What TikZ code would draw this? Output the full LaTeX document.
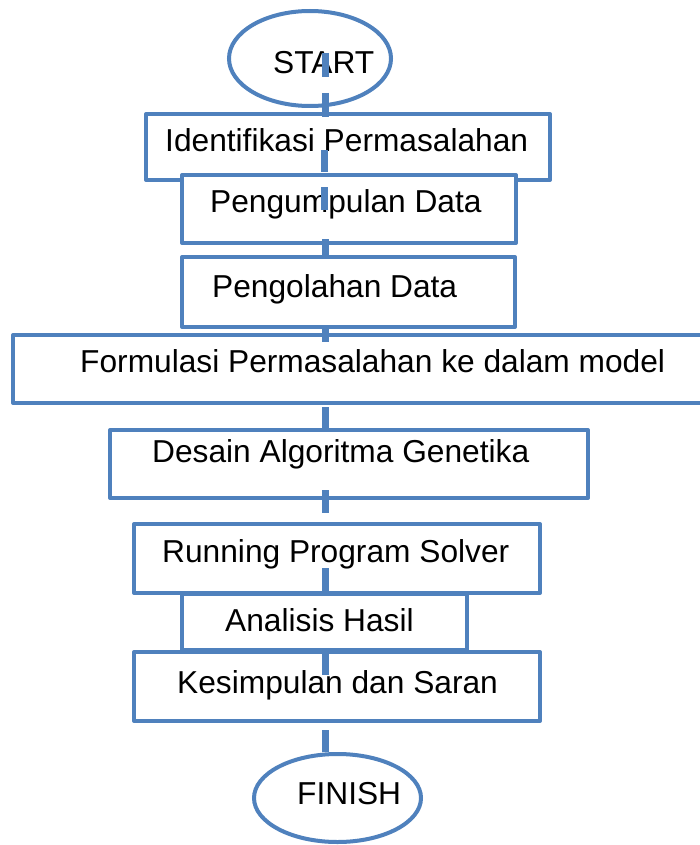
\documentclass[tikz,border=0pt]{standalone}
\usepackage{fontspec}
\setmainfont{Liberation Sans}
\usetikzlibrary{shapes.geometric}
\definecolor{bluestroke}{HTML}{4F81BD}
\tikzset{
  box/.style={draw=bluestroke, line width=4pt, fill=white, rectangle, inner sep=0pt, line join=round},
  oval/.style={draw=bluestroke, line width=4pt, fill=white, ellipse, inner sep=0pt},
  txt/.style={inner sep=0pt, anchor=base west, font=\fontsize{31.7}{38}\selectfont},
  stub/.style={draw=bluestroke, line width=7pt}
}
\begin{document}
\begin{tikzpicture}[x=1pt,y=-1pt]
\useasboundingbox (0,0) rectangle (699,845);
% shapes
\node[oval, minimum width=162pt, minimum height=95pt] (start) at (310,58.5) {};
\node[box, minimum width=404pt, minimum height=66pt] (b1) at (348,147) {};
\node[box, minimum width=334pt, minimum height=68pt] (b2) at (349,209) {};
\node[box, minimum width=333pt, minimum height=70pt] (b3) at (348.5,292) {};
\node[box, minimum width=697pt, minimum height=68pt] (b4) at (361.5,369) {};
\node[box, minimum width=478pt, minimum height=68pt] (b5) at (349,464) {};
\node[box, minimum width=406pt, minimum height=69pt] (b6) at (337,558.5) {};
\node[box, minimum width=285pt, minimum height=56pt] (b7) at (324.5,622) {};
\node[box, minimum width=406pt, minimum height=69pt] (b8) at (337,686.5) {};
\node[oval, minimum width=167pt, minimum height=88pt] (finish) at (337.5,798) {};
% texts
\node[txt] (tstart) at (273,74) {START};
\node[txt] (t1) at (165,152) {Identifikasi Permasalahan};
\node[txt] (t2) at (210,212) {Pengumpulan Data};
\node[txt] (t3) at (212,297) {Pengolahan Data};
\node[txt] (t4) at (80,372) {Formulasi Permasalahan ke dalam model};
\node[txt] (t5) at (152,462) {Desain Algoritma Genetika};
\node[txt] (t6) at (162,562) {Running Program Solver};
\node[txt] (t7) at (225,631) {Analisis Hasil};
\node[txt] (t8) at (177,693) {Kesimpulan dan Saran};
\node[txt] (tfinish) at (297,804) {FINISH};
% connector stubs
\coordinate (s1a) at (325,53);  \coordinate (s1b) at (325,77);
\coordinate (s2a) at (325,93);  \coordinate (s2b) at (325,117);
\coordinate (s3a) at (324,150); \coordinate (s3b) at (324,172);
\coordinate (s4a) at (324,187); \coordinate (s4b) at (324,210);
\coordinate (s5a) at (325,239); \coordinate (s5b) at (325,257);
\coordinate (s6a) at (325,328); \coordinate (s6b) at (325,342);
\coordinate (s7a) at (325,407); \coordinate (s7b) at (325,428);
\coordinate (s8a) at (325,490); \coordinate (s8b) at (325,513);
\coordinate (s9a) at (325,568); \coordinate (s9b) at (325,592);
\coordinate (s10a) at (325,653); \coordinate (s10b) at (325,675);
\coordinate (s11a) at (325,730); \coordinate (s11b) at (325,752);
\foreach \i in {1,...,11} { \draw[stub] (s\i a) -- (s\i b); }
\end{tikzpicture}
\end{document}
